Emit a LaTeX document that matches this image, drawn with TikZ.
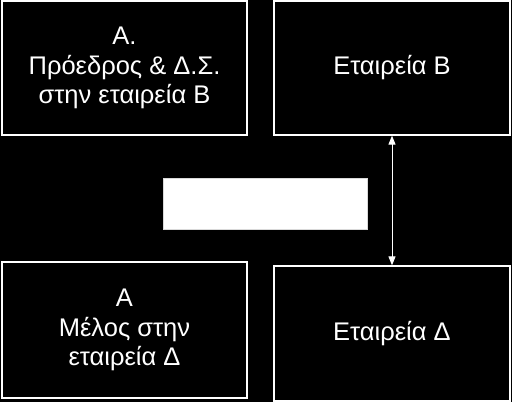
\documentclass[tikz,border=0pt]{standalone}
\usepackage{fontspec}
\setmainfont{Liberation Sans}
\usetikzlibrary{arrows.meta}

\begin{document}
\begin{tikzpicture}[
    x=1pt, y=-1pt,
    box/.style={rectangle, draw=white, line width=1.3pt, fill=black, text=white, align=center,
        font=\fontsize{25.5}{29.5}\selectfont, inner sep=0pt},
    blank/.style={rectangle, draw=gray!30, line width=1pt, fill=white, inner sep=0pt},
    arrow/.style={{Triangle[width=7pt,length=9pt]}-{Triangle[width=7pt,length=9pt]}, draw=white, fill=white, line width=1pt}
]
\fill[black] (0,0) rectangle (512,402);
\useasboundingbox (0,0) rectangle (512,402);

\node[box, minimum width=245pt, minimum height=134pt] (pres) at (124.5,68) {Α.\\Πρόεδρος \& Δ.Σ.\\στην εταιρεία Β};
\node[box, minimum width=236pt, minimum height=134pt] (compb) at (392,68) {Εταιρεία Β};
\node[box, minimum width=245pt, minimum height=136pt] (member) at (124.5,330) {Α\\Μέλος στην\\εταιρεία Δ};
\node[box, minimum width=236pt, minimum height=135pt] (compd) at (392,333.5) {Εταιρεία Δ};
\node[blank, minimum width=204pt, minimum height=51pt] (gap) at (265,203.5) {};

\draw[arrow] (compb.south) -- (compd.north);
\end{tikzpicture}
\end{document}
